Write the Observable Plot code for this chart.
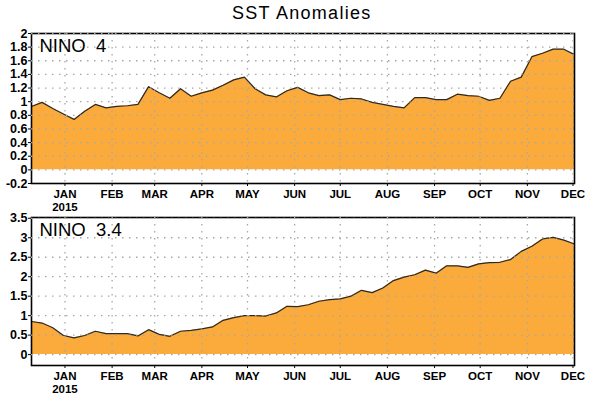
<!DOCTYPE html>
<html><head><meta charset="utf-8">
<script src="https://cdn.jsdelivr.net/npm/d3@7"></script>
<script src="https://cdn.jsdelivr.net/npm/@observablehq/plot@0.6"></script>
<style>
body{margin:0;background:#fff;}
#wrap{position:relative;width:589px;height:398px;font-family:"Liberation Sans",Arial,sans-serif;overflow:hidden;}
#title{position:absolute;left:232px;top:3px;font-size:18px;letter-spacing:1.3px;color:#000;white-space:nowrap;}
.pnl{position:absolute;left:0;}
</style></head><body>
<div id="wrap"><div id="title">SST Anomalies</div></div>
<script>
const weeks = ["2014-12-10","2014-12-17","2014-12-24","2014-12-31",
"2015-01-07","2015-01-14","2015-01-21","2015-01-28",
"2015-02-04","2015-02-11","2015-02-18","2015-02-25",
"2015-03-04","2015-03-11","2015-03-18","2015-03-25",
"2015-04-01","2015-04-08","2015-04-15","2015-04-22","2015-04-29",
"2015-05-06","2015-05-13","2015-05-20","2015-05-27",
"2015-06-03","2015-06-10","2015-06-17","2015-06-24",
"2015-07-01","2015-07-08","2015-07-15","2015-07-22","2015-07-29",
"2015-08-05","2015-08-12","2015-08-19","2015-08-26",
"2015-09-02","2015-09-09","2015-09-16","2015-09-23","2015-09-30",
"2015-10-07","2015-10-14","2015-10-21","2015-10-28",
"2015-11-04","2015-11-11","2015-11-18","2015-11-25",
"2015-12-02"];
const nino4 = [0.93,0.99,0.90,0.82,0.74,0.86,0.96,0.91,0.93,0.94,0.96,1.22,1.13,1.05,1.19,1.08,1.13,1.17,1.24,1.32,1.36,1.19,1.10,1.07,1.16,1.21,1.13,1.09,1.10,1.03,1.05,1.04,0.99,0.96,0.93,0.91,1.06,1.06,1.03,1.03,1.11,1.09,1.08,1.02,1.05,1.30,1.36,1.66,1.71,1.77,1.77,1.69];
const nino34 = [0.85,0.81,0.69,0.49,0.43,0.49,0.60,0.54,0.54,0.54,0.48,0.64,0.52,0.47,0.60,0.62,0.66,0.71,0.88,0.95,1.00,1.00,0.99,1.07,1.24,1.23,1.28,1.37,1.41,1.43,1.50,1.65,1.59,1.71,1.90,1.99,2.05,2.17,2.09,2.28,2.28,2.24,2.33,2.36,2.37,2.44,2.65,2.78,2.97,3.01,2.94,2.84];
const monthTicks = ["2015-01-01","2015-02-01","2015-03-01","2015-04-01","2015-05-01","2015-06-01","2015-07-01","2015-08-01","2015-09-01","2015-10-01","2015-11-01","2015-12-01"];
const monthLabels = ["JAN","FEB","MAR","APR","MAY","JUN","JUL","AUG","SEP","OCT","NOV","DEC"];
const yearLabel = "2015";
const nino4Ticks = [-0.2,0,0.2,0.4,0.6,0.8,1,1.2,1.4,1.6,1.8,2];
const nino34Ticks = [0,0.5,1,1.5,2,2.5,3,3.5];
const labels = ["NINO\u00a0\u00a04","NINO\u00a0\u00a03.4"];

const dates = weeks.map(d => new Date(d + "T00:00:00Z"));
const mDates = monthTicks.map(d => new Date(d + "T00:00:00Z"));
const fmtY = d => String(+(+d).toFixed(1));
const fmtX = d => monthLabels[d.getUTCMonth()] + (d.getUTCMonth() === 0 ? "\n" + yearLabel : "");

function panel(values, label, yDomain, yTicks, gridTicks, height, marginTop, marginBottom) {
  const data = dates.map((d, i) => ({date: d, v: values[i]}));
  return Plot.plot({
    width: 589, height, marginLeft: 31, marginRight: 15, marginTop, marginBottom,
    style: {fontFamily: "'Liberation Sans', Arial, sans-serif", fontSize: "12px", fontWeight: "bold", background: "transparent", overflow: "visible"},
    x: {type: "utc", domain: [dates[0], dates[dates.length - 1]], label: null},
    y: {domain: yDomain, label: null},
    marks: [
      Plot.areaY(data, {x: "date", y1: 0, y2: "v", fill: "#fbaa3c"}),
      Plot.lineY(data, {x: "date", y: "v", stroke: "#2a2a2a", strokeWidth: 1.2}),
      Plot.frame({stroke: "#000", strokeWidth: 1.6}),
      Plot.gridY(gridTicks, {stroke: "#a8a8a8", strokeOpacity: 1, strokeWidth: 1.3, strokeDasharray: "1.5,5.5"}),
      Plot.gridX(mDates, {stroke: "#a8a8a8", strokeOpacity: 1, strokeWidth: 1.3, strokeDasharray: "1.5,5.5"}),
      Plot.axisY(yTicks, {tickSize: 3, tickPadding: 1, tickFormat: fmtY, fontSize: 12.5, fontWeight: "bold"}),
      Plot.axisX(mDates, {tickSize: 3, tickPadding: 2, tickFormat: fmtX, fontSize: 11.5, fontWeight: "bold", lineHeight: 1.12}),
      Plot.text([label], {text: d => d, frameAnchor: "top-left", dx: 8, dy: 5, fontSize: 18.5, fontWeight: "normal", textAnchor: "start", lineAnchor: "top"})
    ]
  });
}

const wrap = document.getElementById("wrap");
const p1 = panel(nino4, labels[0], [-0.2, 2], nino4Ticks, nino4Ticks.filter(t => t >= 0), 213, 33, 30);
p1.classList.add("pnl"); p1.style.top = "0px";
wrap.appendChild(p1);
const p2 = panel(nino34, labels[1], [-0.28, 3.52], nino34Ticks, nino34Ticks, 185, 5, 32);
p2.classList.add("pnl"); p2.style.top = "212px";
wrap.appendChild(p2);
</script>
</body></html>
